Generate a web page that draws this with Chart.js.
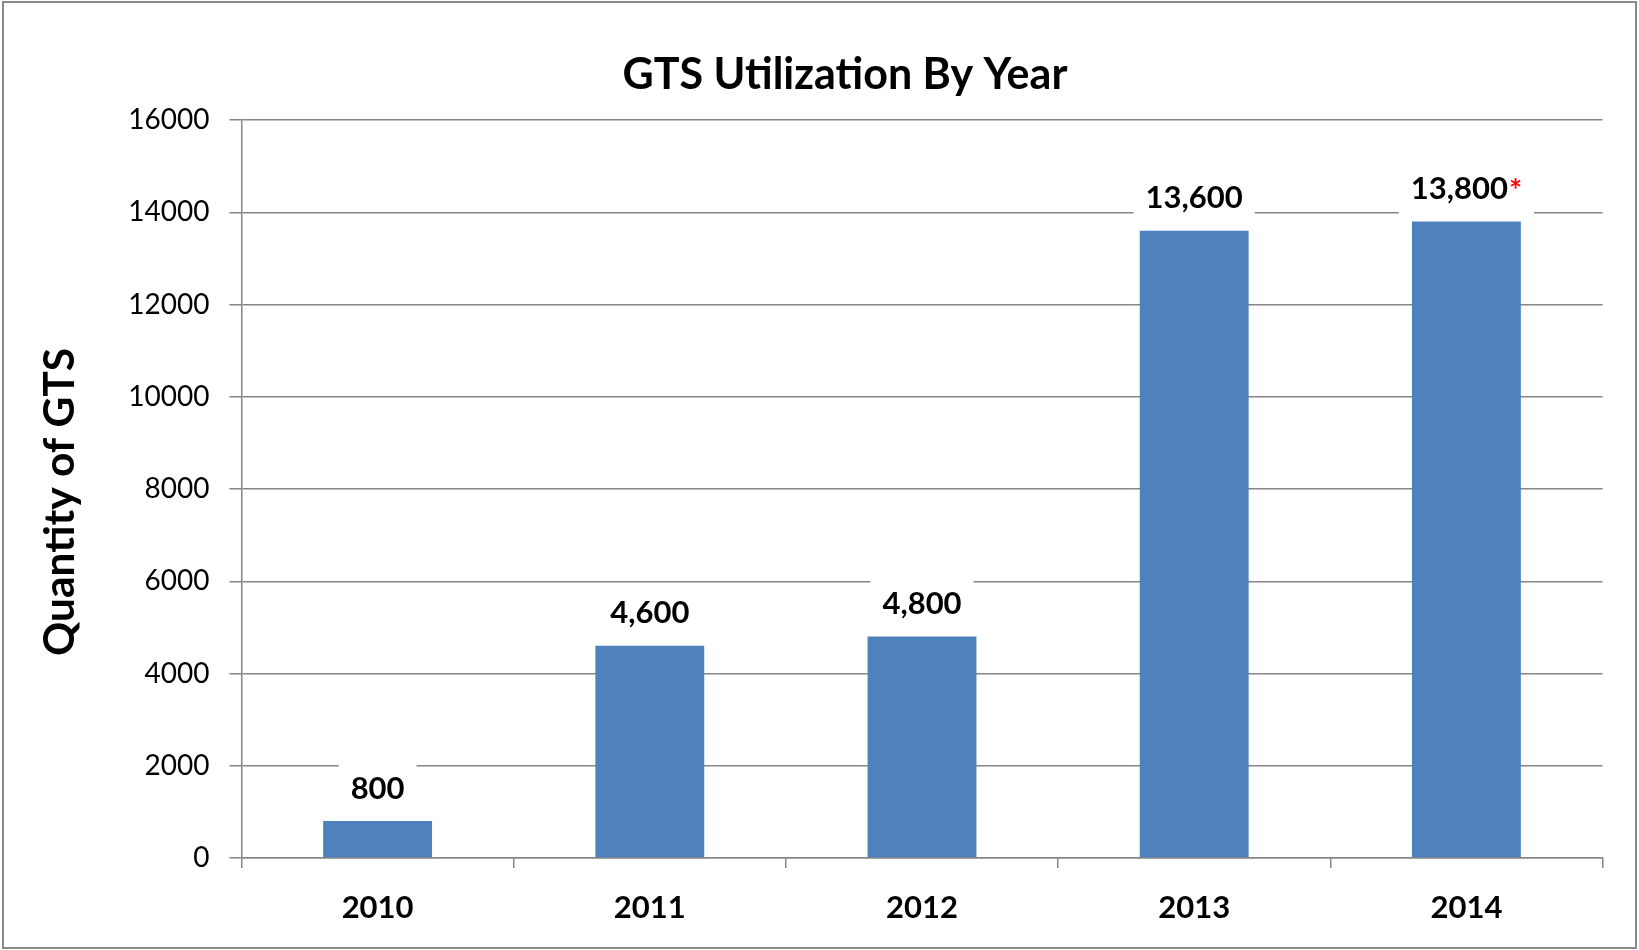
<!DOCTYPE html>
<html>
<head>
<meta charset="utf-8">
<script src="https://cdn.jsdelivr.net/npm/chart.js@4.4.1/dist/chart.umd.min.js"></script>
<style>
  html, body { margin: 0; padding: 0; background: #fff; }
  #wrap { position: relative; width: 1639px; height: 950px; }
  #frame { position: absolute; left: 2px; top: 1px; width: 1635px; height: 948px; box-sizing: border-box; border: 2px solid #8a8a8a; pointer-events: none; }
  canvas { position: absolute; left: 0; top: 0; }
</style>
</head>
<body>
<div id="wrap">
  <canvas id="c" width="1639" height="950" style="width:1639px;height:950px"></canvas>
  <div id="frame"></div>
</div>
<script>
const chartTitle = 'GTS Utilization By Year';
const yAxisTitle = 'Quantity of GTS';
const years = ['2010', '2011', '2012', '2013', '2014'];
const quantities = [800, 4600, 4800, 13600, 13800];
const labelNotes = ['', '', '', '', '*'];
const yMin = 0;
const yMax = 16000;
const yStep = 2000;

const gridColor = '#868686';
const barColor = '#4F81BD';
const FONT = 'Lato, "Open Sans", sans-serif';

const titles = {
  id: 'titles',
  afterDraw(chart) {
    const ctx = chart.ctx;
    ctx.save();
    ctx.fillStyle = '#000';
    ctx.textAlign = 'center';
    ctx.textBaseline = 'middle';
    ctx.font = 'bold 43px ' + FONT;
    ctx.fillText(chartTitle, 845, 75);
    ctx.translate(60, 502);
    ctx.rotate(-Math.PI / 2);
    ctx.font = 'bold 42.5px ' + FONT;
    ctx.fillText(yAxisTitle, 0, 0);
    ctx.restore();
  }
};

const valueLabels = {
  id: 'valueLabels',
  afterDatasetsDraw(chart) {
    const ctx = chart.ctx;
    const meta = chart.getDatasetMeta(0);
    ctx.save();
    meta.data.forEach((bar, i) => {
      const main = quantities[i].toLocaleString('en-US');
      const note = labelNotes[i];
      ctx.font = 'bold 31px ' + FONT;
      const w1 = ctx.measureText(main).width;
      ctx.font = 'bold 31px ' + FONT;
      const w2 = note ? ctx.measureText(note).width + 1 : 0;
      const total = w1 + w2;
      const cy = bar.y - 32.5;
      const x0 = bar.x - total / 2;
      ctx.fillStyle = '#ffffff';
      ctx.fillRect(x0 - 12, cy - 26, total + 24, 52);
      ctx.textBaseline = 'middle';
      ctx.textAlign = 'left';
      ctx.fillStyle = '#000000';
      ctx.font = 'bold 31px ' + FONT;
      ctx.fillText(main, x0, cy);
      if (note) {
        ctx.fillStyle = '#ff0000';
        ctx.font = 'bold 31px ' + FONT;
        ctx.fillText(note, x0 + w1 + 1, cy + 2);
      }
    });
    ctx.restore();
  }
};

new Chart(document.getElementById('c'), {
  type: 'bar',
  data: {
    labels: years,
    datasets: [{
      data: quantities,
      backgroundColor: barColor,
      borderWidth: 0,
      categoryPercentage: 1.0,
      barPercentage: 0.4
    }]
  },
  options: {
    responsive: false,
    animation: false,
    devicePixelRatio: 1,
    layout: { padding: { top: 120, left: 0, right: 36.5, bottom: 0 } },
    plugins: {
      legend: { display: false },
      tooltip: { enabled: false },
      title: { display: false }
    },
    scales: {
      x: {
        grid: { offset: true, drawOnChartArea: false, drawTicks: true, tickLength: 10, color: gridColor, lineWidth: 1.5 },
        border: { color: gridColor, width: 1.5 },
        ticks: { color: '#000', font: { family: FONT, size: 31, weight: 'bold', lineHeight: 1.2 }, padding: 21 },
        afterFit(s) { s.height = 92; }
      },
      y: {
        min: yMin,
        max: yMax,
        ticks: {
          stepSize: yStep,
          color: '#000',
          font: { family: FONT, size: 28, lineHeight: 1.2 },
          padding: 20,
          callback: (v) => String(v)
        },
        grid: { color: gridColor, lineWidth: 1.5, tickLength: 12 },
        border: { color: gridColor, width: 1.5 },
        afterFit(s) { s.width = 241.5; }
      }
    }
  },
  plugins: [valueLabels, titles]
});
</script>
</body>
</html>
